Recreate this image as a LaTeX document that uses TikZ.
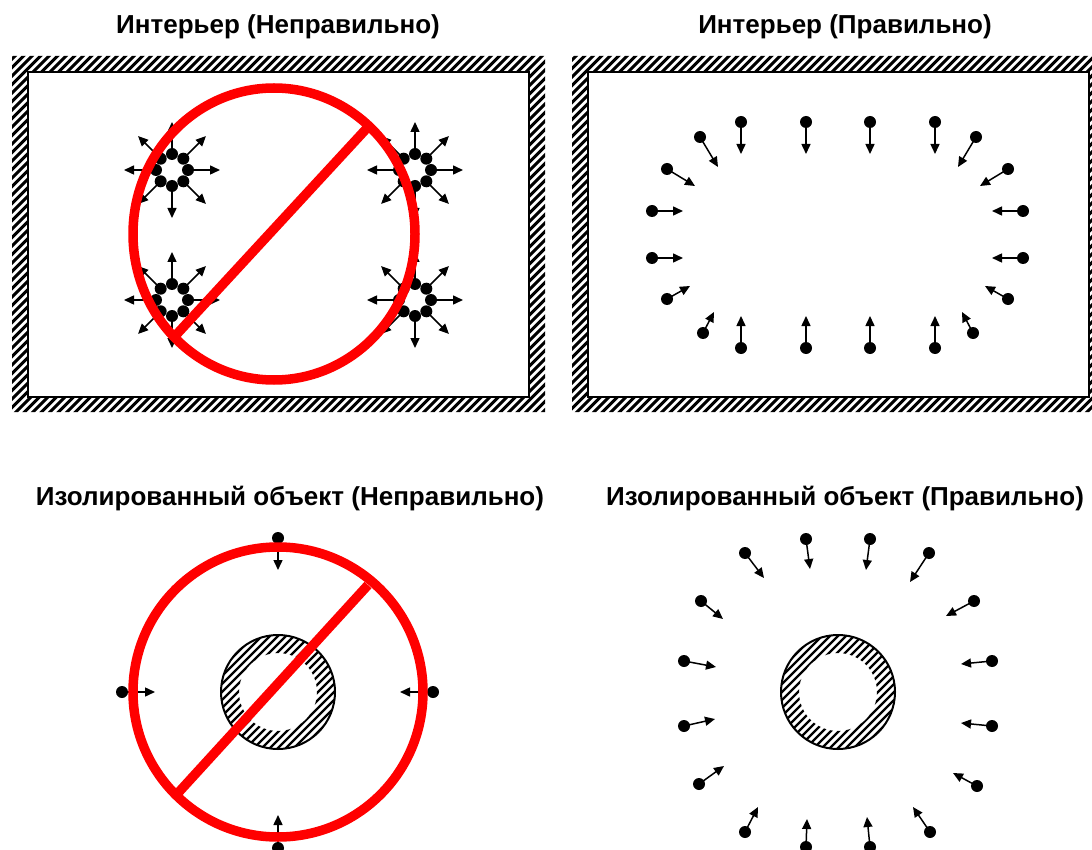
\documentclass[tikz,border=0pt]{standalone}
\usepackage{fontspec}
\setmainfont{Liberation Sans}
\usetikzlibrary{arrows.meta}
\tikzstyle{wall} = [line width=2pt]
\tikzstyle{hatch} = [line width=3pt]
\tikzstyle{ringhatch} = [line width=2.3pt]
\tikzstyle{ray} = [line width=1.5pt, -{Triangle[length=10pt,width=9pt]}]
\tikzstyle{forbid} = [draw=red, line width=9.5pt]
\tikzstyle{caption} = [font=\bfseries\fontsize{26}{30}\selectfont]

\begin{document}
\begin{tikzpicture}
    [x=1pt, y=-1pt]
    \useasboundingbox (0,0) rectangle (1092,850);

    %% Titles
    \node [caption] (titleA) at (278,27) {Интерьер (Неправильно)};
    \node [caption] (titleB) at (845,27) {Интерьер (Правильно)};
    \node [caption] (titleC) at (290,499) {Изолированный объект (Неправильно)};
    \node [caption] (titleD) at (845,499) {Изолированный объект (Правильно)};

    %% Hatched walls
    \foreach \xa/\xb in {12/545, 572/1105} {
      \begin{scope}[even odd rule]
        \clip (\xa,56) rectangle (\xb,412) (\xa+16,72) rectangle (\xb-16,397);
        \foreach \k in {-400,-391.5,...,1120}
          \draw [hatch] (\k,420) -- (\k+370,50);
      \end{scope}
      \draw [wall] (\xa+16,72) rectangle (\xb-16,397);
    }

    %% Hatched rings
    \foreach \cx in {278, 838} {
      \begin{scope}[even odd rule]
        \clip (\cx,692) circle [radius=57] (\cx,692) circle [radius=39];
        \foreach \k in {-120,-112,...,120}
          \draw [ringhatch] (\cx+\k-70,762) -- (\cx+\k+70,622);
      \end{scope}
      \draw [wall] (\cx,692) circle [radius=57];
    }

    %% Interior, wrong: clusters
    \foreach \cx/\cy in {172/170, 172/300, 415/170, 415/300}
      \foreach \a in {0,45,...,315} {
        \draw [ray] (\cx,\cy) ++(\a:16) -- ++(\a:32);
        \fill (\cx,\cy) ++(\a:16) circle [radius=6];
      }

    %% Interior, right
    \foreach \x/\y/\tx/\ty in {741/122/741/154, 806/122/806/154, 870/122/870/154, 935/122/935/154,
        700/137/718/167, 976/137/958/167, 667/169/695/186, 1008/169/980/186,
        652/211/683/211, 1023/211/992/211, 652/258/683/258, 1023/258/992/258,
        667/299/690/286, 1008/299/985/286, 703/333/714/312, 973/333/962/312,
        741/348/741/316, 806/348/806/316, 870/348/870/316, 935/348/935/316} {
      \draw [ray] (\x,\y) -- (\tx,\ty);
      \fill (\x,\y) circle [radius=6];
    }

    %% Isolated object, wrong
    \foreach \x/\y/\tx/\ty in {278/538/278/570, 122/692/155/692, 433/692/400/692, 278/848/278/815} {
      \draw [ray] (\x,\y) -- (\tx,\ty);
      \fill (\x,\y) circle [radius=6];
    }

    %% Isolated object, right
    \foreach \x/\y/\tx/\ty in {806/539/810/569, 870/539/866/570, 745/553/764/578, 929/553/910/582,
        701/601/723/619, 974/601/946/616, 684/661/716/667, 992/661/961/664,
        684/726/715/719, 992/726/961/723, 699/784/724/766, 977/786/953/773,
        745/832/758/807, 930/832/913/807, 806/847/807/819, 870/847/867/817} {
      \draw [ray] (\x,\y) -- (\tx,\ty);
      \fill (\x,\y) circle [radius=6];
    }

    %% Forbidden signs
    \draw [forbid] (274,234) ellipse [x radius=141, y radius=146];
    \draw [forbid] (176,335) -- (368,127);
    \draw [forbid] (278,692) circle [radius=145];
    \draw [forbid] (178,793) -- (368,585);

\end{tikzpicture}
\end{document}
